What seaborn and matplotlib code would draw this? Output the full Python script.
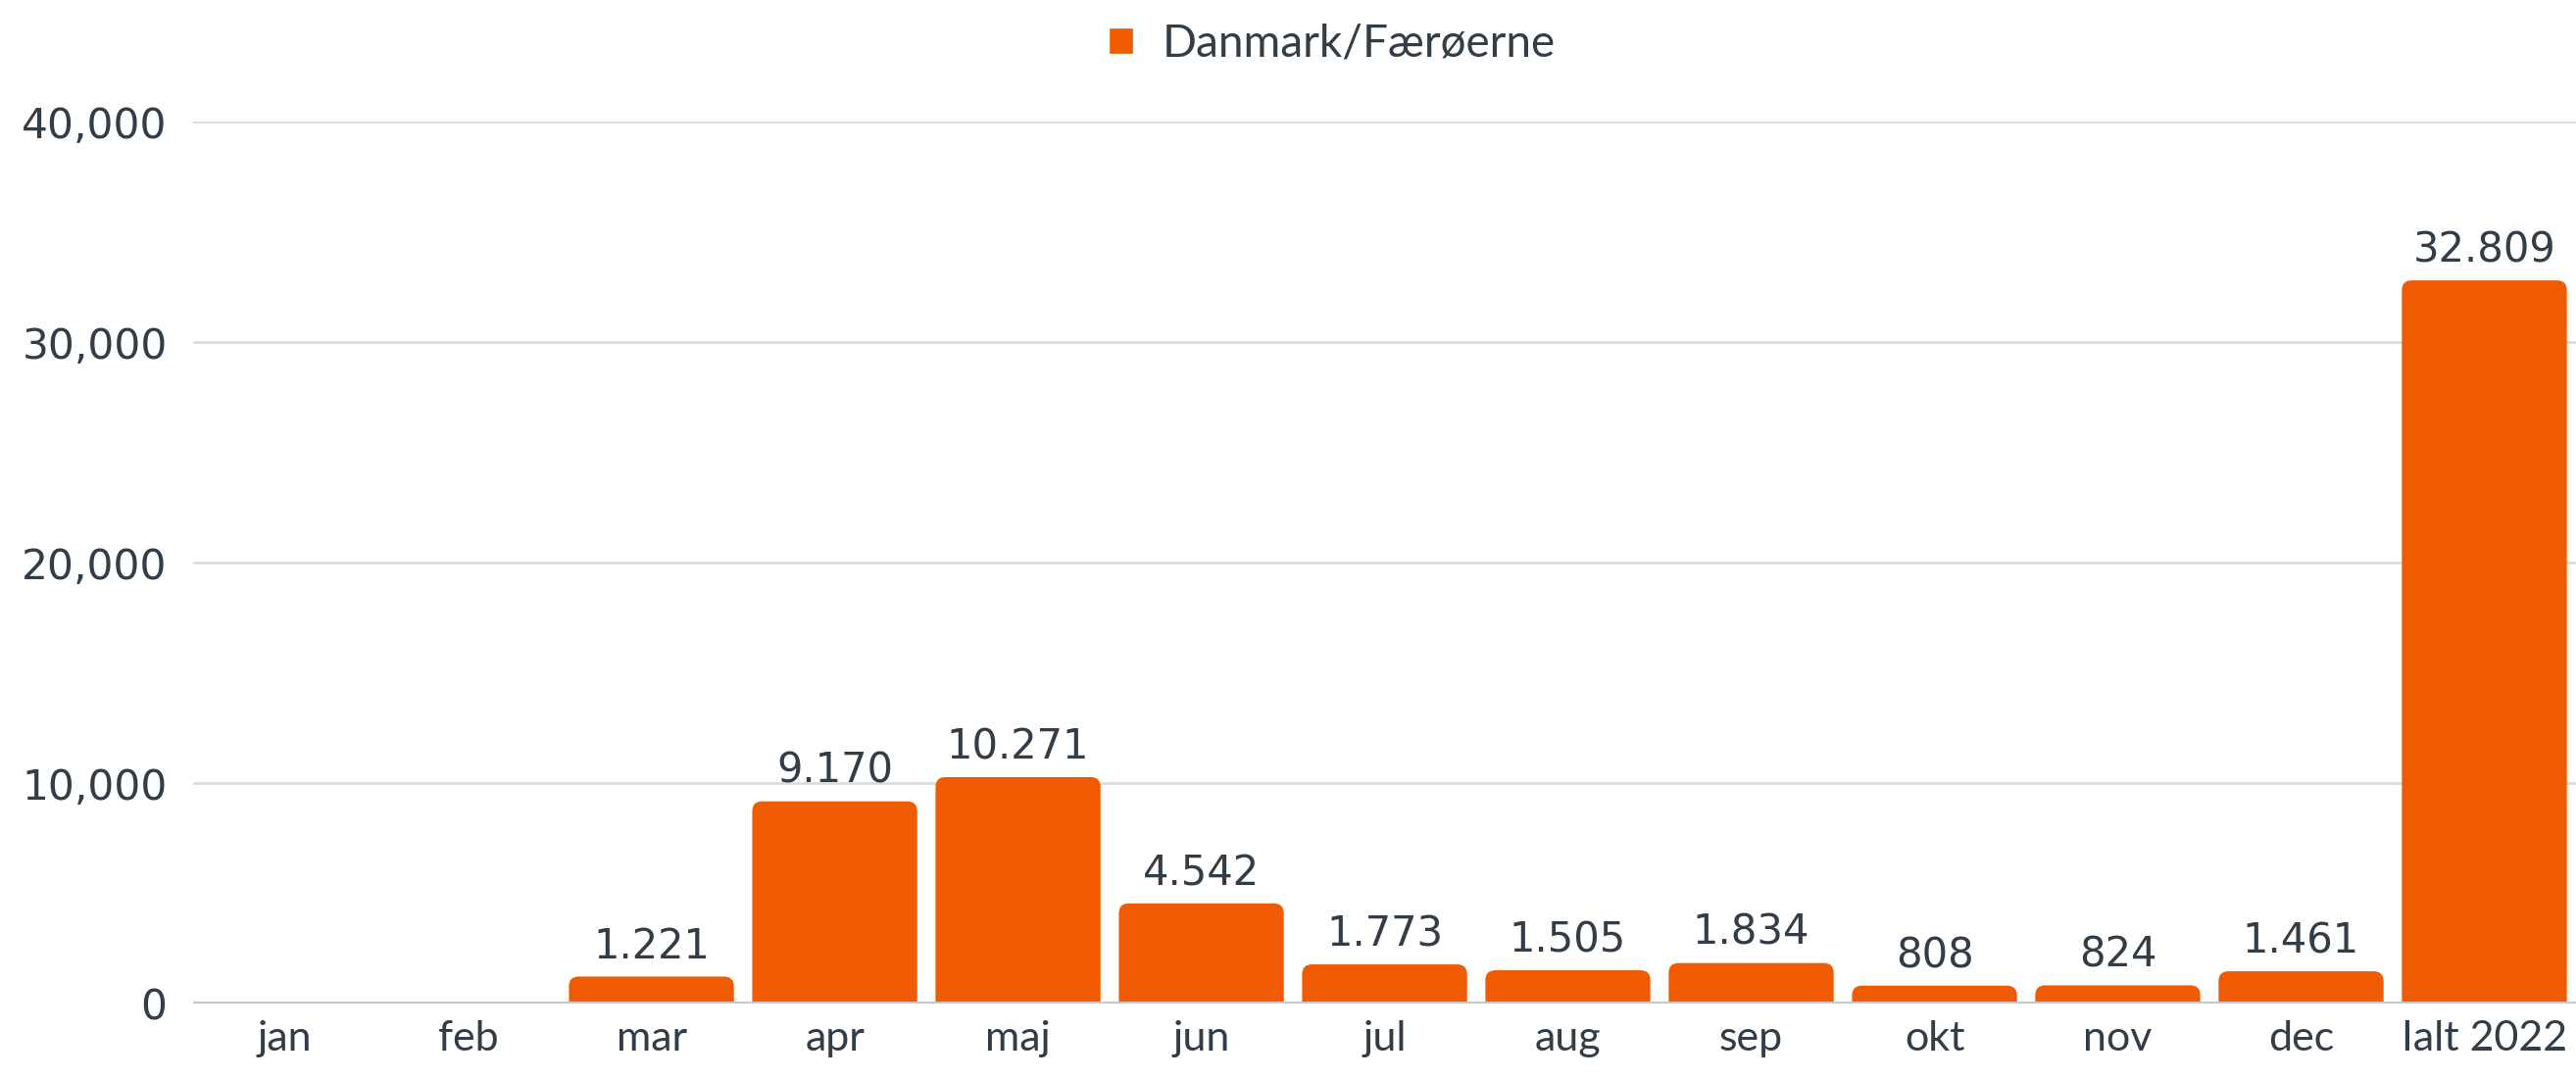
import pandas as pd
import matplotlib.pyplot as plt
import matplotlib.ticker as mticker
from matplotlib.patches import FancyBboxPatch
import seaborn as sns

maaneder = ['jan', 'feb', 'mar', 'apr', 'maj', 'jun', 'jul', 'aug', 'sep',
            'okt', 'nov', 'dec', 'Ialt 2022']
antal = [0, 0, 1221, 9170, 10271, 4542, 1773, 1505, 1834, 808, 824, 1461, 32809]
serie = 'Danmark/Færøerne'

orange = '#F05A00'
tekst = '#333D47'

df = pd.DataFrame({'Maaned': maaneder, 'Antal': antal, 'Serie': serie})

sns.set_style('white')
plt.rcParams['font.family'] = ['Lato', 'DejaVu Sans']

fig = plt.figure(figsize=(26.28, 11.01), dpi=100)
ax = fig.add_axes([0.075, 0.070, 0.925, 0.817])

sns.barplot(data=df, x='Maaned', y='Antal', hue='Serie', palette=[orange],
            width=0.9, saturation=1, ax=ax, zorder=3)

ax.set_ylim(0, 40000)
ax.set_xlim(-0.5, len(maaneder) - 0.5)
ax.set_yticks([0, 10000, 20000, 30000, 40000])
ax.yaxis.set_major_formatter(mticker.FuncFormatter(lambda v, p: f'{int(v):,}'))
ax.grid(axis='y', color='#DADDE0', linewidth=2, zorder=0)
ax.axhline(0, color='#C5C9CD', linewidth=3, zorder=4)
for s in ax.spines.values():
    s.set_visible(False)
ax.set_xlabel('')
ax.set_ylabel('')
ax.tick_params(axis='y', length=0, pad=19, labelsize=30.5, labelcolor=tekst)
ax.tick_params(axis='x', length=0, pad=12, labelsize=31, labelcolor=tekst)
for lbl in ax.get_yticklabels():
    lbl.set_family('DejaVu Sans')

# legende laves før søjlerne udskiftes
leg = ax.legend(loc='upper center', bbox_to_anchor=(0.478, 1.158), frameon=False,
                fontsize=33, handlelength=0.55, handleheight=0.55, handletextpad=0.65)
for t in leg.get_texts():
    t.set_color(tekst)

# afrundede hjørner øverst: erstat søjlerne med FancyBboxPatch
px_x = ax.transData.transform((1, 0))[0] - ax.transData.transform((0, 0))[0]
px_y = ax.transData.transform((0, 1))[1] - ax.transData.transform((0, 0))[1]
r = 10 / px_x
aspekt = px_x / px_y
for p in list(ax.patches):
    x, w, h = p.get_x(), p.get_width(), p.get_height()
    if h > 0:
        ny = FancyBboxPatch((x, -r * aspekt * 2), w, h + r * aspekt * 2,
                            boxstyle=f'round,pad=0,rounding_size={r}',
                            mutation_aspect=aspekt, facecolor=orange,
                            edgecolor='none', zorder=3)
        ax.add_patch(ny)
    p.remove()

# Værdier over søjlerne (dansk tusindtalsseparator)
for i, v in enumerate(antal):
    if v > 0:
        ax.annotate(f'{v:,}'.replace(',', '.'), (i, v), xytext=(0, 7),
                    textcoords='offset points', ha='center', va='bottom',
                    fontsize=30, color=tekst, family='DejaVu Sans')

fig.savefig('out.png', dpi=100)
